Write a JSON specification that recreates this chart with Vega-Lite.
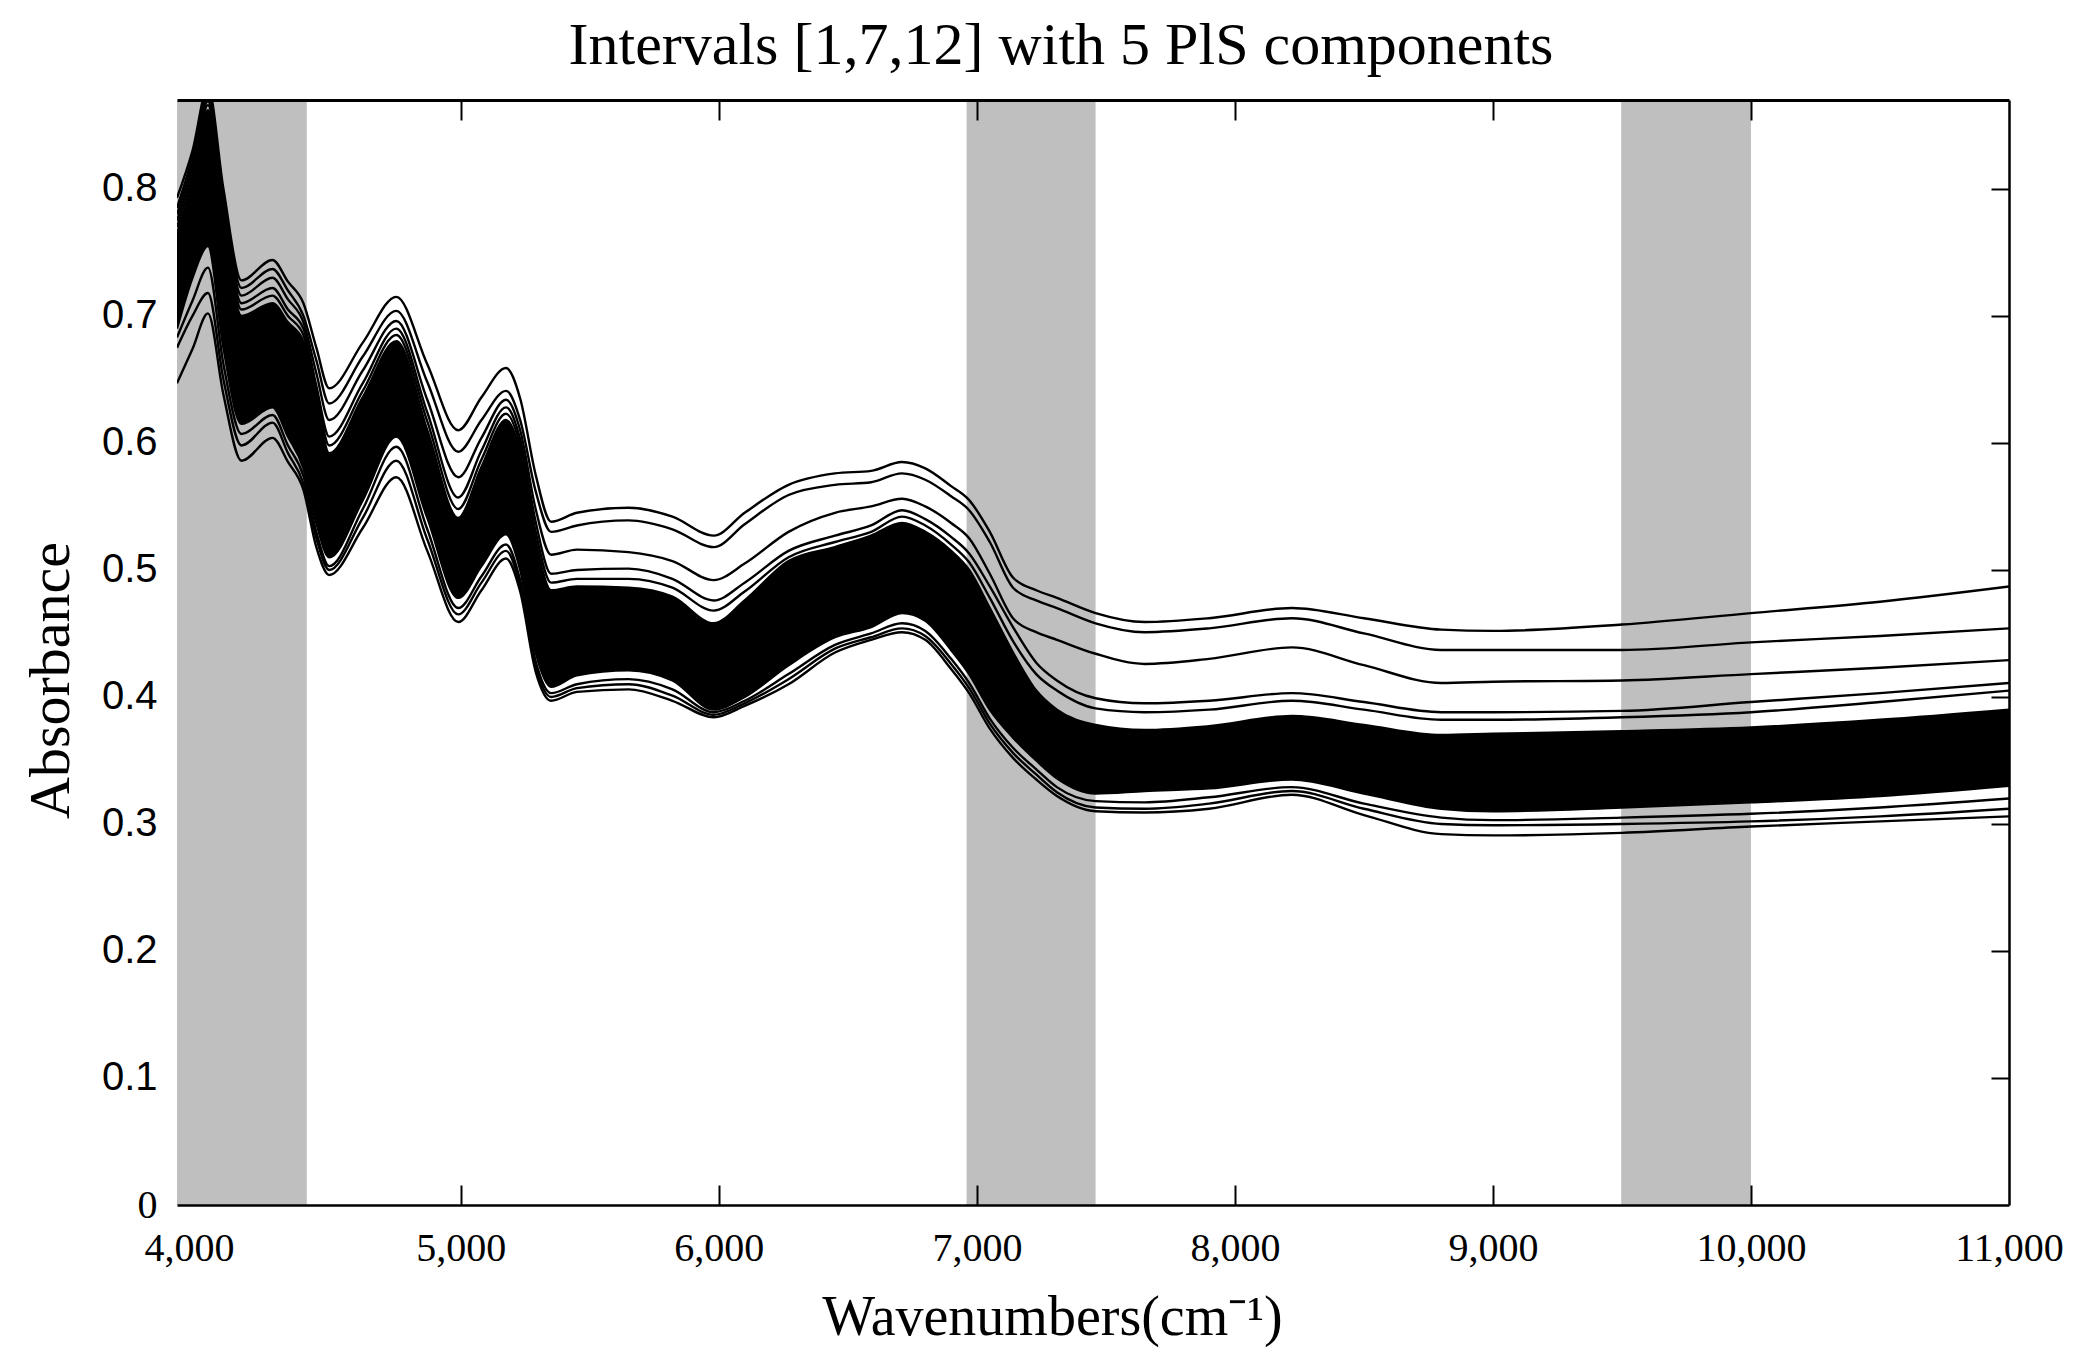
{
  "$schema": "https://vega.github.io/schema/vega-lite/v6.json",
  "width": 1832,
  "height": 1105,
  "autosize": {"type": "none"},
  "padding": {"left": 177, "top": 100, "right": 75, "bottom": 159},
  "background": "white",
  "config": {"view": {"stroke": null}},
  "title": {"text": "Intervals [1,7,12] with 5 PlS components", "font": "Liberation Serif", "fontSize": 60, "fontWeight": "normal", "color": "black", "anchor": "middle", "dx": -32, "dy": 58, "baseline": "alphabetic", "offset": 33},
  "datasets": {
    "bands": [{"start": 3900, "end": 4403}, {"start": 6960, "end": 7460}, {"start": 9497, "end": 10000}],
    "spectra": [
      {"wn": 3900, "T1": 0.793, "T2": 0.785, "T3": 0.780, "U1": 0.775, "U2": 0.770, "CT": 0.765, "CB": 0.690, "L1": 0.683, "L2": 0.675, "L3": 0.647},
      {"wn": 3960, "T1": 0.830, "T2": 0.825, "T3": 0.820, "U1": 0.815, "U2": 0.810, "CT": 0.805, "CB": 0.730, "L1": 0.712, "L2": 0.700, "L3": 0.674},
      {"wn": 4020, "T1": 0.880, "T2": 0.876, "T3": 0.872, "U1": 0.869, "U2": 0.866, "CT": 0.862, "CB": 0.755, "L1": 0.738, "L2": 0.718, "L3": 0.702},
      {"wn": 4080, "T1": 0.800, "T2": 0.795, "T3": 0.790, "U1": 0.785, "U2": 0.780, "CT": 0.775, "CB": 0.675, "L1": 0.662, "L2": 0.650, "L3": 0.638},
      {"wn": 4150, "T1": 0.728, "T2": 0.722, "T3": 0.716, "U1": 0.710, "U2": 0.705, "CT": 0.700, "CB": 0.615, "L1": 0.607, "L2": 0.598, "L3": 0.586},
      {"wn": 4270, "T1": 0.744, "T2": 0.737, "T3": 0.730, "U1": 0.722, "U2": 0.716, "CT": 0.710, "CB": 0.628, "L1": 0.622, "L2": 0.616, "L3": 0.604},
      {"wn": 4330, "T1": 0.727, "T2": 0.720, "T3": 0.713, "U1": 0.705, "U2": 0.700, "CT": 0.695, "CB": 0.605, "L1": 0.598, "L2": 0.592, "L3": 0.585},
      {"wn": 4390, "T1": 0.710, "T2": 0.700, "T3": 0.695, "U1": 0.690, "U2": 0.685, "CT": 0.680, "CB": 0.580, "L1": 0.574, "L2": 0.568, "L3": 0.563},
      {"wn": 4440, "T1": 0.675, "T2": 0.665, "T3": 0.655, "U1": 0.645, "U2": 0.640, "CT": 0.635, "CB": 0.537, "L1": 0.530, "L2": 0.525, "L3": 0.518},
      {"wn": 4490, "T1": 0.643, "T2": 0.631, "T3": 0.618, "U1": 0.605, "U2": 0.598, "CT": 0.592, "CB": 0.510, "L1": 0.503, "L2": 0.500, "L3": 0.496},
      {"wn": 4620, "T1": 0.679, "T2": 0.668, "T3": 0.657, "U1": 0.647, "U2": 0.641, "CT": 0.636, "CB": 0.555, "L1": 0.548, "L2": 0.541, "L3": 0.533},
      {"wn": 4750, "T1": 0.715, "T2": 0.704, "T3": 0.696, "U1": 0.690, "U2": 0.685, "CT": 0.680, "CB": 0.605, "L1": 0.597, "L2": 0.586, "L3": 0.573},
      {"wn": 4870, "T1": 0.662, "T2": 0.648, "T3": 0.634, "U1": 0.624, "U2": 0.617, "CT": 0.610, "CB": 0.541, "L1": 0.532, "L2": 0.524, "L3": 0.515},
      {"wn": 4990, "T1": 0.610, "T2": 0.593, "T3": 0.573, "U1": 0.557, "U2": 0.548, "CT": 0.541, "CB": 0.478, "L1": 0.470, "L2": 0.465, "L3": 0.459},
      {"wn": 5080, "T1": 0.636, "T2": 0.618, "T3": 0.604, "U1": 0.594, "U2": 0.587, "CT": 0.581, "CB": 0.503, "L1": 0.495, "L2": 0.490, "L3": 0.484},
      {"wn": 5175, "T1": 0.659, "T2": 0.641, "T3": 0.634, "U1": 0.628, "U2": 0.623, "CT": 0.618, "CB": 0.528, "L1": 0.520, "L2": 0.515, "L3": 0.509},
      {"wn": 5230, "T1": 0.635, "T2": 0.618, "T3": 0.610, "U1": 0.603, "U2": 0.598, "CT": 0.593, "CB": 0.500, "L1": 0.492, "L2": 0.488, "L3": 0.483},
      {"wn": 5290, "T1": 0.575, "T2": 0.562, "T3": 0.548, "U1": 0.538, "U2": 0.530, "CT": 0.523, "CB": 0.435, "L1": 0.428, "L2": 0.424, "L3": 0.420},
      {"wn": 5350, "T1": 0.538, "T2": 0.530, "T3": 0.512, "U1": 0.497, "U2": 0.490, "CT": 0.484, "CB": 0.408, "L1": 0.403, "L2": 0.400, "L3": 0.397},
      {"wn": 5450, "T1": 0.545, "T2": 0.535, "T3": 0.516, "U1": 0.500, "U2": 0.493, "CT": 0.487, "CB": 0.417, "L1": 0.410, "L2": 0.407, "L3": 0.404},
      {"wn": 5650, "T1": 0.549, "T2": 0.539, "T3": 0.514, "U1": 0.501, "U2": 0.493, "CT": 0.486, "CB": 0.421, "L1": 0.414, "L2": 0.410, "L3": 0.406},
      {"wn": 5820, "T1": 0.542, "T2": 0.532, "T3": 0.507, "U1": 0.493, "U2": 0.486, "CT": 0.479, "CB": 0.413, "L1": 0.406, "L2": 0.401, "L3": 0.397},
      {"wn": 5980, "T1": 0.527, "T2": 0.518, "T3": 0.492, "U1": 0.476, "U2": 0.468, "CT": 0.458, "CB": 0.390, "L1": 0.388, "L2": 0.386, "L3": 0.384},
      {"wn": 6100, "T1": 0.545, "T2": 0.536, "T3": 0.505, "U1": 0.490, "U2": 0.483, "CT": 0.476, "CB": 0.400, "L1": 0.397, "L2": 0.395, "L3": 0.393},
      {"wn": 6270, "T1": 0.567, "T2": 0.559, "T3": 0.530, "U1": 0.515, "U2": 0.510, "CT": 0.507, "CB": 0.425, "L1": 0.418, "L2": 0.414, "L3": 0.410},
      {"wn": 6450, "T1": 0.576, "T2": 0.567, "T3": 0.545, "U1": 0.527, "U2": 0.522, "CT": 0.518, "CB": 0.447, "L1": 0.441, "L2": 0.438, "L3": 0.435},
      {"wn": 6590, "T1": 0.578, "T2": 0.569, "T3": 0.550, "U1": 0.535, "U2": 0.530, "CT": 0.527, "CB": 0.455, "L1": 0.450, "L2": 0.447, "L3": 0.445},
      {"wn": 6710, "T1": 0.585, "T2": 0.576, "T3": 0.556, "U1": 0.547, "U2": 0.542, "CT": 0.537, "CB": 0.466, "L1": 0.458, "L2": 0.454, "L3": 0.451},
      {"wn": 6800, "T1": 0.580, "T2": 0.571, "T3": 0.550, "U1": 0.540, "U2": 0.535, "CT": 0.530, "CB": 0.460, "L1": 0.452, "L2": 0.448, "L3": 0.445},
      {"wn": 6900, "T1": 0.566, "T2": 0.558, "T3": 0.537, "U1": 0.526, "U2": 0.520, "CT": 0.515, "CB": 0.437, "L1": 0.430, "L2": 0.426, "L3": 0.422},
      {"wn": 6970, "T1": 0.555, "T2": 0.547, "T3": 0.525, "U1": 0.513, "U2": 0.506, "CT": 0.500, "CB": 0.418, "L1": 0.411, "L2": 0.407, "L3": 0.403},
      {"wn": 7050, "T1": 0.530, "T2": 0.522, "T3": 0.497, "U1": 0.487, "U2": 0.478, "CT": 0.470, "CB": 0.390, "L1": 0.383, "L2": 0.379, "L3": 0.375},
      {"wn": 7140, "T1": 0.494, "T2": 0.486, "T3": 0.462, "U1": 0.455, "U2": 0.444, "CT": 0.435, "CB": 0.368, "L1": 0.360, "L2": 0.356, "L3": 0.352},
      {"wn": 7230, "T1": 0.484, "T2": 0.476, "T3": 0.451, "U1": 0.427, "U2": 0.418, "CT": 0.405, "CB": 0.350, "L1": 0.343, "L2": 0.339, "L3": 0.335},
      {"wn": 7310, "T1": 0.478, "T2": 0.470, "T3": 0.445, "U1": 0.413, "U2": 0.405, "CT": 0.390, "CB": 0.336, "L1": 0.329, "L2": 0.325, "L3": 0.322},
      {"wn": 7460, "T1": 0.466, "T2": 0.458, "T3": 0.434, "U1": 0.399, "U2": 0.391, "CT": 0.378, "CB": 0.324, "L1": 0.318, "L2": 0.313, "L3": 0.310},
      {"wn": 7650, "T1": 0.459, "T2": 0.451, "T3": 0.426, "U1": 0.395, "U2": 0.388, "CT": 0.374, "CB": 0.326, "L1": 0.317, "L2": 0.312, "L3": 0.309},
      {"wn": 7900, "T1": 0.462, "T2": 0.454, "T3": 0.430, "U1": 0.397, "U2": 0.390, "CT": 0.377, "CB": 0.328, "L1": 0.321, "L2": 0.316, "L3": 0.312},
      {"wn": 8220, "T1": 0.470, "T2": 0.462, "T3": 0.439, "U1": 0.403, "U2": 0.397, "CT": 0.385, "CB": 0.335, "L1": 0.329, "L2": 0.326, "L3": 0.323},
      {"wn": 8500, "T1": 0.462, "T2": 0.450, "T3": 0.425, "U1": 0.396, "U2": 0.390, "CT": 0.378, "CB": 0.324, "L1": 0.316, "L2": 0.312, "L3": 0.307},
      {"wn": 8800, "T1": 0.453, "T2": 0.437, "T3": 0.411, "U1": 0.388, "U2": 0.382, "CT": 0.370, "CB": 0.312, "L1": 0.305, "L2": 0.300, "L3": 0.292},
      {"wn": 9000, "T1": 0.452, "T2": 0.437, "T3": 0.412, "U1": 0.388, "U2": 0.382, "CT": 0.371, "CB": 0.310, "L1": 0.303, "L2": 0.299, "L3": 0.291},
      {"wn": 9500, "T1": 0.457, "T2": 0.437, "T3": 0.413, "U1": 0.389, "U2": 0.384, "CT": 0.373, "CB": 0.313, "L1": 0.305, "L2": 0.300, "L3": 0.293},
      {"wn": 10000, "T1": 0.466, "T2": 0.443, "T3": 0.418, "U1": 0.396, "U2": 0.388, "CT": 0.376, "CB": 0.317, "L1": 0.308, "L2": 0.302, "L3": 0.298},
      {"wn": 10500, "T1": 0.475, "T2": 0.448, "T3": 0.423, "U1": 0.403, "U2": 0.396, "CT": 0.382, "CB": 0.322, "L1": 0.313, "L2": 0.306, "L3": 0.302},
      {"wn": 11000, "T1": 0.487, "T2": 0.454, "T3": 0.429, "U1": 0.411, "U2": 0.405, "CT": 0.390, "CB": 0.330, "L1": 0.320, "L2": 0.312, "L3": 0.306}
    ]
  },
  "resolve": {"axis": {"x": "independent", "y": "independent"}},
  "layer": [
    {
      "data": {"name": "bands"},
      "mark": {"type": "rect", "color": "#bfbfbf"},
      "encoding": {
        "x": {"field": "start", "type": "quantitative", "scale": {"domain": [3900, 11000], "nice": false, "zero": false}, "axis": null},
        "x2": {"field": "end"}
      }
    },
    {
      "data": {"name": "spectra"},
      "mark": {"type": "area", "interpolate": "monotone", "color": "black", "clip": true},
      "encoding": {
        "x": {"field": "wn", "type": "quantitative", "scale": {"domain": [3900, 11000], "nice": false, "zero": false},
          "axis": {"orient": "bottom", "values": [3900, 5000, 6000, 7000, 8000, 9000, 10000, 11000],
            "labelExpr": "datum.value == 3900 ? '4,000' : format(datum.value, ',')",
            "labelFont": "Liberation Serif", "labelFontSize": 40, "labelColor": "black", "labelPadding": 43,
            "labelFlush": false, "labelOverlap": false, "labelBound": false,
            "labelOffset": {"condition": {"test": "datum.value == 3900", "value": 12}, "value": 0},
            "tickSize": -20, "tickWidth": 2, "tickColor": "black",
            "tickOpacity": {"condition": {"test": "datum.value == 3900 || datum.value == 11000", "value": 0}, "value": 1},
            "domain": true, "domainColor": "black", "domainWidth": 2.5, "grid": false, "zindex": 1,
            "title": "Wavenumbers(cm⁻¹)", "titleFont": "Liberation Serif", "titleFontSize": 56, "titleFontWeight": "normal", "titleColor": "black",
            "titleX": 875, "titleY": 129, "titleBaseline": "alphabetic", "titleAlign": "center"}},
        "y": {"field": "CT", "type": "quantitative", "scale": {"domain": [0, 0.87], "nice": false},
          "axis": {"orient": "left", "values": [0, 0.1, 0.2, 0.3, 0.4, 0.5, 0.6, 0.7, 0.8],
            "labelExpr": "datum.value == 0 ? '0' : format(datum.value, '.1f')",
            "labelFont": {"condition": {"test": "datum.value == 0", "value": "Liberation Serif"}, "value": "Liberation Sans"},
            "labelFontSize": 40, "labelColor": "black", "labelPadding": 20, "labelFlush": false, "labelOverlap": false, "labelBound": false,
            "ticks": false, "domain": false, "grid": false, "zindex": 1,
            "title": "Absorbance", "titleFont": "Liberation Serif", "titleFontSize": 58, "titleFontWeight": "normal", "titleColor": "black",
            "titleX": -109, "titleY": 580, "titleBaseline": "alphabetic", "titleAlign": "center", "titleAngle": -90}},
        "y2": {"field": "CB"}
      }
    },
    {
      "data": {"name": "spectra"},
      "transform": [{"fold": ["T1", "T2", "T3", "U1", "U2", "CT", "CB", "L1", "L2", "L3"], "as": ["spectrum", "absorbance"]}],
      "mark": {"type": "line", "interpolate": "monotone", "color": "black", "strokeWidth": 2.4, "clip": true},
      "encoding": {
        "x": {"field": "wn", "type": "quantitative", "scale": {"domain": [3900, 11000], "nice": false, "zero": false},
          "axis": {"orient": "top", "values": [5000, 6000, 7000, 8000, 9000, 10000], "labels": false, "tickSize": -20, "tickWidth": 2, "tickColor": "black",
            "domain": true, "domainColor": "black", "domainWidth": 3, "grid": false, "title": null, "zindex": 1}},
        "y": {"field": "absorbance", "type": "quantitative", "scale": {"domain": [0, 0.87], "nice": false},
          "axis": {"orient": "right", "values": [0.1, 0.2, 0.3, 0.4, 0.5, 0.6, 0.7, 0.8], "labels": false, "tickSize": -18, "tickWidth": 2, "tickColor": "black",
            "domain": true, "domainColor": "black", "domainWidth": 2.5, "grid": false, "title": null, "zindex": 1}},
        "detail": {"field": "spectrum", "type": "nominal"}
      }
    }
  ]
}
